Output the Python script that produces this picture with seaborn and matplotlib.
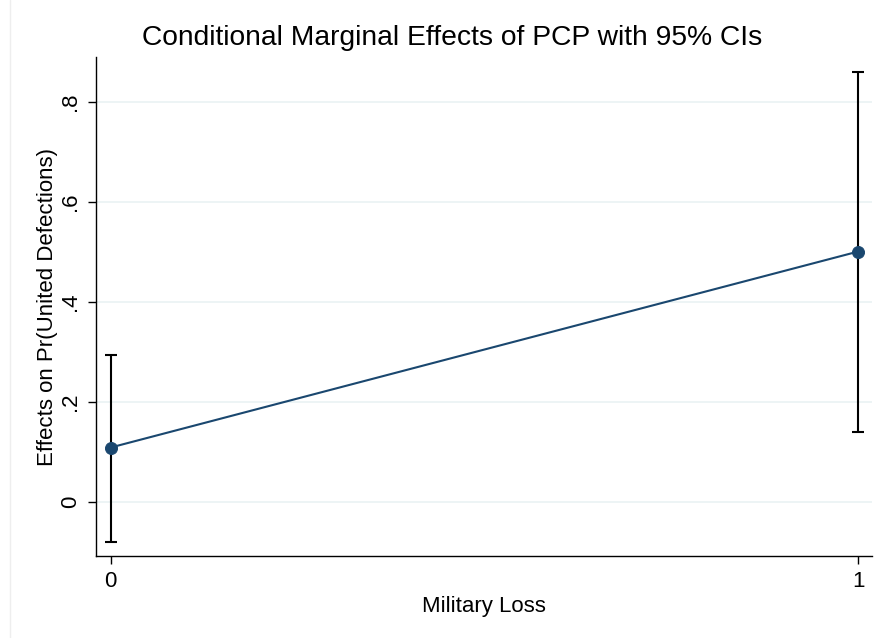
import numpy as np
import pandas as pd
import seaborn as sns
from matplotlib import pyplot as plt
from matplotlib.lines import Line2D

# values
military_loss = [0, 1]
effect = [0.108, 0.500]
ci_low = [-0.080, 0.140]
ci_high = [0.294, 0.860]
y_ticks = [0, 0.2, 0.4, 0.6, 0.8]
y_tick_labels = ["0", ".2", ".4", ".6", ".8"]

df = pd.DataFrame({"Military Loss": military_loss, "Effect": effect,
                   "lo": ci_low, "hi": ci_high})

sns.set_style("white")
plt.rcParams['font.family'] = ['Liberation Sans', 'DejaVu Sans']
plt.rcParams['text.color'] = "black"
plt.rcParams['axes.labelcolor'] = "black"
plt.rcParams['xtick.color'] = "black"
plt.rcParams['ytick.color'] = "black"

fig = plt.figure(figsize=(8.84, 6.38), dpi=100)
ax = fig.add_axes([96 / 884, 1 - 556 / 638, 776 / 884, 499 / 638])

# faint outer frame line on the left, as in Stata export
fig.add_artist(Line2D([9.5 / 884, 9.5 / 884], [0, 1], color="#eeeeee", lw=1))

navy = "#1a476f"
for t in y_ticks:
    ax.axhline(t, color="#eaf2f3", lw=1.2, zorder=0)

ax.errorbar(df["Military Loss"], df["Effect"],
            yerr=[df["Effect"] - df["lo"], df["hi"] - df["Effect"]],
            fmt="none", ecolor="black", elinewidth=1.5, capsize=4.2, capthick=1.5, zorder=2)
sns.lineplot(data=df, x="Military Loss", y="Effect", color=navy, lw=1.5, ax=ax, zorder=3)
sns.scatterplot(data=df, x="Military Loss", y="Effect", color=navy, s=75,
                edgecolor=navy, ax=ax, zorder=4)

ax.set_xlim(-0.0197, 1.0183)
ax.set_ylim(-0.109, 0.889)
ax.set_xticks(military_loss)
ax.set_xticklabels(["0", "1"], fontsize=16)
ax.set_yticks(y_ticks)
ax.set_yticklabels(y_tick_labels, fontsize=16, rotation=90, va="center")
ax.tick_params(axis="both", bottom=True, left=True, direction="out",
               length=6, width=1, color="black", pad=5)
for s in ["top", "right"]:
    ax.spines[s].set_visible(False)
for s in ["left", "bottom"]:
    ax.spines[s].set_color("black")
    ax.spines[s].set_linewidth(1)

ax.set_xlabel("Military Loss", fontsize=16, labelpad=3)
ax.set_ylabel("Effects on Pr(United Defections)", fontsize=16, labelpad=1.5)
fig.text(452 / 884, 1 - 38 / 638, "Conditional Marginal Effects of PCP with 95% CIs",
         fontsize=20.3, ha="center", va="center")

fig.savefig("out.png", dpi=100, facecolor="white")
